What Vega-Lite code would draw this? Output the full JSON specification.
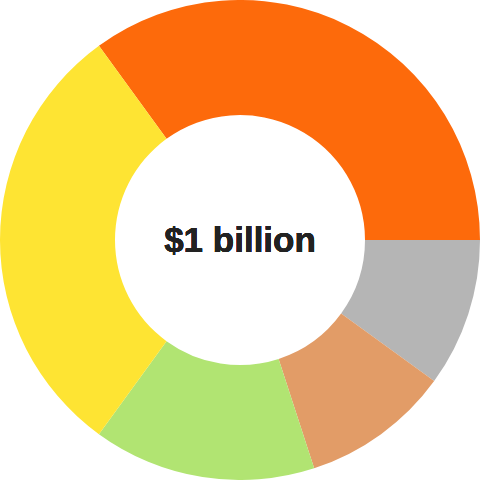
{
  "$schema": "https://vega.github.io/schema/vega-lite/v6.json",
  "width": 480,
  "height": 480,
  "autosize": {"type": "fit", "contains": "padding"},
  "padding": 0,
  "view": {"stroke": null},
  "data": {"values": [
    {"category": "A", "value": 35, "order": 1},
    {"category": "B", "value": 10, "order": 2},
    {"category": "C", "value": 10, "order": 3},
    {"category": "D", "value": 15, "order": 4},
    {"category": "E", "value": 30, "order": 5}
  ]},
  "layer": [
    {
      "mark": {"type": "arc", "innerRadius": 125, "outerRadius": 240},
      "encoding": {
        "theta": {"field": "value", "type": "quantitative", "stack": true, "scale": {"range": [-0.6283, 5.6549]}},
        "order": {"field": "order", "type": "quantitative"},
        "color": {
          "field": "category", "type": "nominal", "legend": null,
          "scale": {"domain": ["A", "B", "C", "D", "E"], "range": ["#FD6A0B", "#B5B5B5", "#E29C67", "#B1E472", "#FEE433"]}
        }
      }
    },
    {
      "mark": {"type": "text", "text": "$1 billion", "font": "Liberation Sans", "fontWeight": "bold", "fontSize": 35, "color": "#222222", "align": "center", "baseline": "middle", "dy": 1},
      "encoding": {}
    }
  ]
}
